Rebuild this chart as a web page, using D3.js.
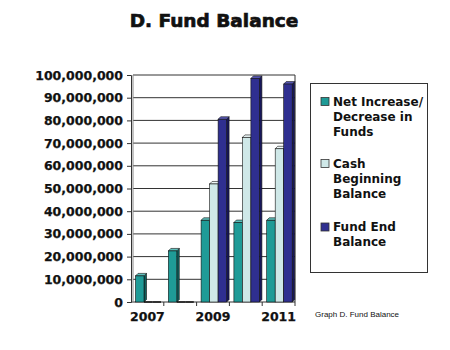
<!DOCTYPE html>
<html>
<head>
<meta charset="utf-8">
<script src="https://cdn.jsdelivr.net/npm/d3@7"></script>
<style>
  body { margin: 0; background: #fff; }
  text { font-family: "DejaVu Sans", sans-serif; font-weight: bold; fill: #111; }
</style>
</head>
<body>
<svg width="450" height="350"></svg>
<script>
var years = ["2007", "2008", "2009", "2010", "2011"];
var labelYears = ["2007", "2009", "2011"];
var seriesNames = ["Net Increase/Decrease in Funds", "Cash Beginning Balance", "Fund End Balance"];
var netChange = [11500000, 22500000, 36000000, 35000000, 36000000];
var cashBegin = [0, 0, 52000000, 72500000, 67500000];
var fundEnd = [0, 0, 80500000, 98500000, 96000000];
var yTicks = [0, 10000000, 20000000, 30000000, 40000000, 50000000, 60000000, 70000000, 80000000, 90000000, 100000000];
var legendLines = [["Net Increase/", "Decrease in", "Funds"], ["Cash", "Beginning", "Balance"], ["Fund End", "Balance"]];

var colors = ["#1f9b97", "#cfe8e8", "#2f2f90"];
var sideColors = ["#0f5f5c", "#8fb5b5", "#17175a"];
var topColors = ["#5fc0bc", "#eef8f8", "#5a5ab8"];

var svg = d3.select("svg");
var plotLeft = 131, plotRight = 295, plotTop = 75, plotBottom = 302;
var depth = 2.5;

var x0 = d3.scaleBand().domain(years).range([plotLeft, plotRight]).padding(0);
var x1 = d3.scaleBand().domain([0, 1, 2]).range([4.5, 30]).padding(0);
var y = d3.scaleLinear().domain([0, 100000000]).range([plotBottom, plotTop]);

// title
svg.append("text")
    .attr("x", 214).attr("y", 27)
    .attr("text-anchor", "middle")
    .style("font-size", "18.5px")
    .attr("stroke", "#111").attr("stroke-width", 0.7)
    .text("D. Fund Balance");

// gridlines
svg.append("g").selectAll("line")
  .data(yTicks.slice(1))
  .enter().append("line")
    .attr("x1", plotLeft + 2).attr("x2", plotRight)
    .attr("y1", function(d) { return y(d); })
    .attr("y2", function(d) { return y(d); })
    .attr("stroke", "#333").attr("stroke-width", 1);

// right wall + floor
svg.append("line").attr("x1", plotRight).attr("x2", plotRight).attr("y1", plotTop).attr("y2", plotBottom)
    .attr("stroke", "#333");
svg.append("line").attr("x1", plotLeft).attr("x2", plotRight).attr("y1", plotBottom).attr("y2", plotBottom)
    .attr("stroke", "#333");
svg.append("line").attr("x1", plotLeft + 2).attr("x2", plotLeft + 2).attr("y1", plotTop).attr("y2", plotBottom)
    .attr("stroke", "#888");

// y axis
var yAxis = svg.append("g")
    .attr("transform", "translate(" + plotLeft + ",0)")
    .call(d3.axisLeft(y).tickValues(yTicks).tickSize(4).tickPadding(4)
      .tickFormat(function(d) { return d === 0 ? "0" : d3.format(",")(d); }));
yAxis.selectAll("text").style("font-size", "12.5px").style("font-family", "DejaVu Sans").style("font-weight", "bold")
    .attr("fill", "#111").attr("stroke", "#111").attr("stroke-width", 0.25);
yAxis.selectAll("line").attr("stroke", "#333");
yAxis.select(".domain").attr("stroke", "#333");

// x ticks at category boundaries
svg.append("g").selectAll("line")
  .data(years)
  .enter().append("line")
    .attr("x1", function(d) { return x0(d) + x0.step(); })
    .attr("x2", function(d) { return x0(d) + x0.step(); })
    .attr("y1", plotBottom).attr("y2", plotBottom + 4)
    .attr("stroke", "#333");

var xAxis = svg.append("g")
    .attr("transform", "translate(0," + plotBottom + ")")
    .call(d3.axisBottom(x0).tickValues(labelYears).tickSize(0).tickPadding(10));
xAxis.select(".domain").remove();
xAxis.selectAll("text").style("font-size", "12.5px").style("font-family", "DejaVu Sans").style("font-weight", "bold")
    .attr("fill", "#111").attr("stroke", "#111").attr("stroke-width", 0.25);

// bars
var rows = years.map(function(yr, i) { return { year: yr, vals: [netChange[i], cashBegin[i], fundEnd[i]] }; });
var groups = svg.append("g").selectAll("g")
  .data(rows)
  .enter().append("g")
    .attr("transform", function(d) { return "translate(" + x0(d.year) + ",0)"; });

groups.each(function(d) {
  var g = d3.select(this);
  d.vals.forEach(function(v, s) {
    var bx = x1(s), bw = x1.bandwidth(), by = y(v);
    if (v === 0) {
      g.append("line").attr("x1", bx).attr("x2", bx + bw).attr("y1", plotBottom).attr("y2", plotBottom)
        .attr("stroke", "#111").attr("stroke-width", 1.5);
      return;
    }
    g.append("polygon")
      .attr("points", [[bx + bw, by], [bx + bw + depth, by - depth], [bx + bw + depth, plotBottom - depth], [bx + bw, plotBottom]].join(" "))
      .attr("fill", sideColors[s]).attr("stroke", "#111").attr("stroke-width", 0.6);
    g.append("polygon")
      .attr("points", [[bx, by], [bx + depth, by - depth], [bx + bw + depth, by - depth], [bx + bw, by]].join(" "))
      .attr("fill", topColors[s]).attr("stroke", "#111").attr("stroke-width", 0.6);
    g.append("rect")
      .attr("x", bx).attr("y", by).attr("width", bw).attr("height", plotBottom - by)
      .attr("fill", colors[s]).attr("stroke", "#111").attr("stroke-width", 0.6);
  });
});

// legend
var legend = svg.append("g");
legend.append("rect")
    .attr("x", 310.5).attr("y", 83.5).attr("width", 117).attr("height", 189)
    .attr("fill", "#fff").attr("stroke", "#333").attr("stroke-width", 1);
var legendTop = [105.5, 167.5, 231];
legendLines.forEach(function(lines, s) {
  legend.append("rect")
    .attr("x", 321).attr("y", legendTop[s] - 8).attr("width", 8).attr("height", 8)
    .attr("fill", colors[s]).attr("stroke", "#333").attr("stroke-width", 0.8);
  var t = legend.append("text")
    .attr("x", 333).attr("y", legendTop[s])
    .style("font-size", "12px");
  lines.forEach(function(line, k) {
    t.append("tspan").attr("x", 333).attr("dy", k === 0 ? 0 : 15).text(line);
  });
});

// footnote
svg.append("text")
    .attr("x", 315).attr("y", 317)
    .style("font-family", "Liberation Sans, Arial, sans-serif")
    .style("font-weight", "normal")
    .style("font-size", "8px")
    .attr("fill", "#333")
    .text("Graph D. Fund Balance");
</script>
</body>
</html>
